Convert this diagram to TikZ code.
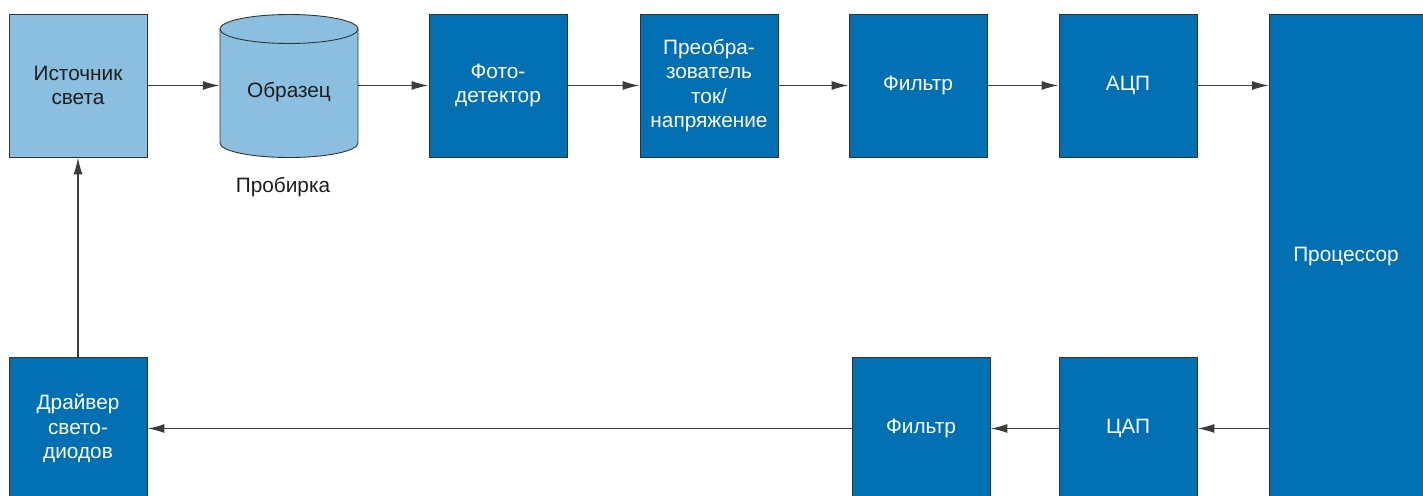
\documentclass[tikz,border=0pt]{standalone}
\usepackage{fontspec}
\setmainfont{Liberation Sans}
\usetikzlibrary{arrows.meta}
\definecolor{darkblue}{HTML}{0070B3}
\definecolor{lightblue}{HTML}{8BBFDF}
\definecolor{edgegray}{HTML}{333333}
\definecolor{linegray}{HTML}{3C3C3C}
\definecolor{txtdark}{HTML}{1E1E1E}
\tikzset{
  blk/.style={rectangle, draw=edgegray, line width=0.9pt, minimum width=138pt, minimum height=143pt, inner sep=0pt, align=center, font=\fontsize{20.8}{24.5}\selectfont},
  darkblk/.style={blk, fill=darkblue, text=white},
  lightblk/.style={blk, fill=lightblue, text=txtdark},
  conn/.style={draw=linegray, line width=1.4pt, -{Latex[length=17pt,width=9pt]}},
  lbl/.style={font=\fontsize{20.8}{24.5}\selectfont, text=txtdark}
}
\begin{document}
\begin{tikzpicture}[x=1pt,y=-1pt]
\useasboundingbox (0,0) rectangle (1423,495);
\clip (0,0) rectangle (1423,495);
% top row
\node[lightblk] (src) at (78,85.5) {Источник\\света};
% cylinder
\filldraw[fill=lightblue, draw=edgegray, line width=0.9pt]
  (220,29) -- (220,143) arc[start angle=180, end angle=360, x radius=69, y radius=-14.5] -- (358,29) arc[start angle=0, end angle=180, x radius=69, y radius=-14.5] -- cycle;
\draw[edgegray, line width=0.9pt] (220,29) arc[start angle=180, end angle=360, x radius=69, y radius=-14.5];
\node[rectangle, minimum width=138pt, minimum height=143pt, inner sep=0pt] (obr) at (289,85.5) {};
\node[lbl] (obrtxt) at (289,92) {Образец};
\node[lbl] (prob) at (283,187) {Пробирка};
\node[darkblk] (det) at (498,85.5) {Фото-\\детектор};
\node[darkblk] (conv) at (709,85.5) {Преобра-\\зователь\\ток/\\напряжение};
\node[darkblk] (filt1) at (918,85.5) {Фильтр};
\node[darkblk] (adc) at (1128,85.5) {АЦП};
% processor
\node[darkblk, minimum width=170pt, minimum height=500pt, anchor=north west] (proc) at (1269,14) {};
\node[font=\fontsize{20.8}{24.5}\selectfont, text=white] (proctxt) at (1346,257) {Процессор};
% bottom row
\node[darkblk] (drv) at (78,428.5) {Драйвер\\свето-\\диодов};
\node[darkblk] (filt2) at (921,428.5) {Фильтр};
\node[darkblk] (dac) at (1128,428.5) {ЦАП};
% connectors
\draw[conn] (src.east) -- (obr.west);
\draw[conn] (obr.east) -- (det.west);
\draw[conn] (det.east) -- (conv.west);
\draw[conn] (conv.east) -- (filt1.west);
\draw[conn] (filt1.east) -- (adc.west);
\draw[conn] (adc.east) -- (adc.east -| proc.west);
\draw[conn] (dac.east -| proc.west) -- (dac.east);
\draw[conn] (dac.west) -- (filt2.east);
\draw[conn] (filt2.west) -- (drv.east);
\draw[conn] (drv.north) -- (src.south);
\end{tikzpicture}
\end{document}
